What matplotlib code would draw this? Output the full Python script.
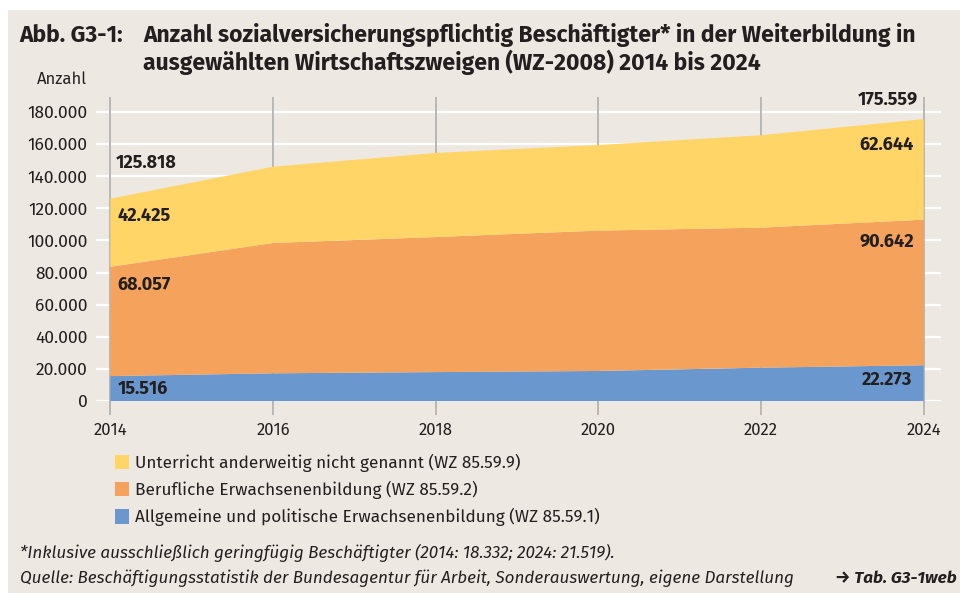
import matplotlib
matplotlib.use("Agg")
import matplotlib.pyplot as plt
from matplotlib.patches import Patch, Rectangle
from matplotlib.ticker import FuncFormatter

# data
years = [2014, 2016, 2018, 2020, 2022, 2024]
allgemeine = [15516, 17250, 18000, 18700, 20750, 22273]
berufliche = [68057, 81150, 84100, 87400, 87200, 90642]
unterricht = [42425, 47500, 52350, 53300, 57550, 62644]
totals = [125818, None, None, None, None, 175559]

series_names = ["Allgemeine und politische Erwachsenenbildung (WZ 85.59.1)",
                "Berufliche Erwachsenenbildung (WZ 85.59.2)",
                "Unterricht anderweitig nicht genannt (WZ 85.59.9)"]
colors = ["#6A97CE", "#F5A35C", "#FFD567"]

bg = "#EDE9E2"
txt = "#231F20"
fira = ["Fira Sans", "DejaVu Sans"]
plt.rcParams["font.family"] = fira


def de(v):
    return f"{v:,.0f}".replace(",", ".")


fig = plt.figure(figsize=(9.6, 5.93), dpi=100)
fig.patch.set_facecolor("white")
fig.patches.append(Rectangle((8 / 960, 0), 1, 1 - 10 / 593, transform=fig.transFigure,
                             facecolor=bg, edgecolor="none", zorder=-10))

ax = fig.add_axes([96 / 960, 192 / 593, 845 / 960, 304 / 593])
ax.set_facecolor(bg)
ax.set_xlim(2013.824, 2024.213)
ax.set_ylim(0, 189300)

ax.stackplot(years, allgemeine, berufliche, unterricht, colors=colors,
             linewidth=0, zorder=3)

yt = range(0, 180001, 20000)
ax.set_yticks(yt)
for y in yt:
    ax.axhline(y, color="white", lw=1.6, zorder=1)
for x in years:
    ax.axvline(x, color="#B3B3B3", lw=1.3, zorder=2)

ax.yaxis.set_major_formatter(FuncFormatter(lambda v, p: de(v)))
ax.set_xticks(years)
ax.tick_params(axis="y", length=0, pad=6, labelsize=12.5, labelcolor=txt)
ax.tick_params(axis="x", length=10, width=1.3, color="#B3B3B3", pad=5,
               labelsize=12, labelcolor=txt)
for s in ax.spines.values():
    s.set_visible(False)

# value labels
bold = dict(fontsize=13, fontweight="bold", color=txt, zorder=5)
tops = [a + b for a, b in zip(allgemeine, berufliche)]
full = [a + b + c for a, b, c in zip(allgemeine, berufliche, unterricht)]
ax.annotate(de(totals[0]), (years[0], full[0]), xytext=(5, 36), textcoords="offset pixels",
            ha="left", va="center", **bold)
ax.annotate(de(unterricht[0]), (years[0], full[0]), xytext=(7, -17), textcoords="offset pixels",
            ha="left", va="center", **bold)
ax.annotate(de(berufliche[0]), (years[0], tops[0]), xytext=(7, -18), textcoords="offset pixels",
            ha="left", va="center", **bold)
ax.annotate(de(allgemeine[0]), (years[0], allgemeine[0]), xytext=(7, -13), textcoords="offset pixels",
            ha="left", va="center", **bold)
ax.annotate(de(totals[-1]), (years[-1], full[-1]), xytext=(-6, 19), textcoords="offset pixels",
            ha="right", va="center", **bold)
ax.annotate(de(unterricht[-1]), (years[-1], full[-1]), xytext=(-10, -26), textcoords="offset pixels",
            ha="right", va="center", **bold)
ax.annotate(de(berufliche[-1]), (years[-1], tops[-1]), xytext=(-10, -22), textcoords="offset pixels",
            ha="right", va="center", **bold)
ax.annotate(de(allgemeine[-1]), (years[-1], allgemeine[-1]), xytext=(-11, -15), textcoords="offset pixels",
            ha="right", va="center", **bold)

# title
tkw = dict(fontweight="bold", fontsize=16.5, color=txt, va="center")
fig.text(19 / 960, 1 - 35 / 593, "Abb. G3-1:", **tkw)
fig.text(143 / 960, 1 - 35 / 593,
         "Anzahl sozialversicherungspflichtig Beschäftigter* in der Weiterbildung in", **tkw)
fig.text(143 / 960, 1 - 62 / 593,
         "ausgewählten Wirtschaftszweigen (WZ-2008) 2014 bis 2024", **tkw)
fig.text(62 / 960, 1 - 79 / 593, "Anzahl", fontsize=12, color=txt, va="center", ha="center")

# legend
handles = [Patch(facecolor=c, edgecolor="none") for c in colors[::-1]]
leg = fig.legend(handles, series_names[::-1], loc="upper left",
                 bbox_to_anchor=(99 / 960, 1 - 438 / 593), frameon=False,
                 handlelength=0.85, handleheight=0.9, handletextpad=0.35,
                 labelspacing=0.54, prop={"size": 12.4})
for t in leg.get_texts():
    t.set_color(txt)

# footnotes
fig.text(20 / 960, 1 - 553 / 593,
         "*Inklusive ausschließlich geringfügig Beschäftigter (2014: 18.332; 2024: 21.519).",
         style="italic", fontsize=12.3, color=txt, va="center")
fig.text(20 / 960, 1 - 578 / 593,
         "Quelle: Beschäftigungsstatistik der Bundesagentur für Arbeit, Sonderauswertung, eigene Darstellung",
         style="italic", fontsize=12.3, color=txt, va="center")
fig.text(957 / 960, 1 - 578 / 593, "→ Tab. G3-1web", style="italic",
         fontweight="bold", fontsize=12.3, color=txt, va="center", ha="right")

fig.savefig("out.png", dpi=100, facecolor=fig.get_facecolor())
